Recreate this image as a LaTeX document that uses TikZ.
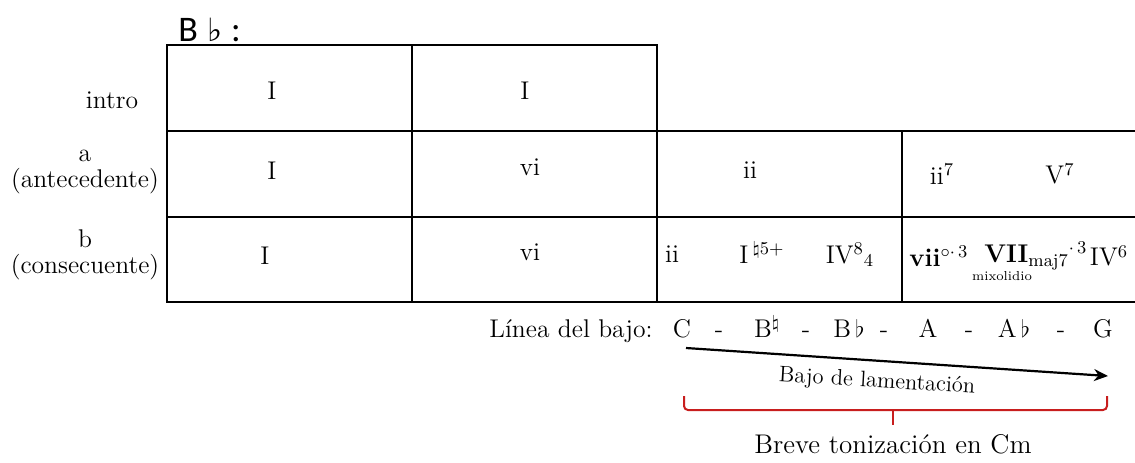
\documentclass[tikz,border=0pt]{standalone}
\usepackage{fontspec}
\usepackage{amsmath}
\newfontfamily\calib{Carlito}
\newfontfamily\dejavu{DejaVu Sans}
\usetikzlibrary{arrows.meta}
\definecolor{bracered}{RGB}{200,30,30}
\begin{document}
\begin{tikzpicture}[x=0.5pt,y=-0.5pt,
  grid/.style={line width=1pt,line cap=rect},
  lbl/.style={font=\fontsize{12.8}{13}\selectfont, inner sep=0pt, align=center},
  blbl/.style={font=\fontsize{12.8}{13}\selectfont\bfseries, inner sep=0pt, align=center},
  bass/.style={font=\fontsize{12.8}{13}\selectfont, inner sep=0pt, anchor=base},
  small/.style={font=\fontsize{6.5}{7}\selectfont, inner sep=0pt}]
\useasboundingbox (0,0) rectangle (1135,462);
% key
\node[inner sep=0pt, anchor=west, font=\calib\fontsize{18}{20}\selectfont] (key) at (178,30) {B\hspace{5pt}{\dejavu\fontsize{16}{18}\selectfont ♭}\hspace{4pt}:};
% grid
\draw[grid] (167,131) -- (167,45) -- (657,45) -- (657,302);
\draw[grid] (412,45) -- (412,302);
\draw[grid] (167,131) -- (1135,131);
\draw[grid] (167,217) -- (1135,217);
\draw[grid] (167,302) -- (1135,302);
\draw[grid] (167,131) -- (167,302);
\draw[grid] (902,131) -- (902,302);
% row labels
\node[lbl] (intro) at (112,100) {intro};
\node[lbl] (rowa) at (85,172) {a\\(antecedente)};
\node[lbl] (rowb) at (85,255) {b\\(consecuente)};
% intro row
\node[lbl] (i1) at (272,91) {I};
\node[lbl] (i2) at (525,91) {I};
% a row
\node[lbl] (a1) at (272,171) {I};
\node[lbl] (a2) at (530,167) {vi};
\node[lbl] (a3) at (750,170) {ii};
\node[lbl] (a4) at (942,174) {ii$^{7}$};
\node[lbl] (a5) at (1060,174) {V$^{7}$};
% b row
\node[lbl] (b1) at (265,256) {I};
\node[lbl] (b2) at (530,252) {vi};
\node[lbl] (b3) at (672,254) {ii};
\node[lbl] (b4) at (762,253) {I\,$^{\natural5+}$};
\node[lbl] (b5) at (850,255) {IV$^{8}{}_{4}$};
\node[blbl, anchor=west] (b6) at (909,256) {vii$^{\circ\cdot\,3}$};
\node[blbl, anchor=west] (b7) at (984,256) {VII$_{\mathrm{maj}7}{}^{\cdot\,3}$};
\node[small] (b7m) at (1002,276) {mixolidio};
\node[lbl] (b8) at (1109,256) {IV$^{6}$};
% bass line
\node[bass] (linea) at (571,337) {Línea del bajo:};
\node[bass] (nC) at (682,337) {C};
\node[bass] (d1) at (719,337) {-};
\node[bass] (nBn) at (767,337) {B$^{\natural}$};
\node[bass] (d2) at (806,337) {-};
\node[bass] (nBb) at (849,337) {B\,$\flat$};
\node[bass] (d3) at (884,337) {-};
\node[bass] (nA) at (928,337) {A};
\node[bass] (d4) at (969,337) {-};
\node[bass] (nAb) at (1014,337) {A\,$\flat$};
\node[bass] (d5) at (1061,337) {-};
\node[bass] (nG) at (1103,337) {G};
% arrow
\coordinate (arrS) at (686,348);
\coordinate (arrE) at (1108,376);
\draw[line width=1.1pt,-{Stealth[length=7pt,width=6pt]}] (arrS) -- (arrE);
\node[inner sep=0pt, rotate=-3.3, font=\fontsize{11.2}{12}\selectfont] (lam) at (877,382) {Bajo de lamentación};
% brace
\coordinate (brL) at (684,396);
\coordinate (brR) at (1107,396);
\coordinate (brM) at (893,410);
\coordinate (brT) at (893,425);
\draw[bracered, line width=1pt, rounded corners=2pt] (brL) -- (684,410) -- (1107,410) -- (brR);
\draw[bracered, line width=1pt] (brM) -- (brT);
\node[inner sep=0pt, font=\fontsize{13.5}{14}\selectfont] (breve) at (893,444) {Breve tonización en Cm};
\end{tikzpicture}
\end{document}
